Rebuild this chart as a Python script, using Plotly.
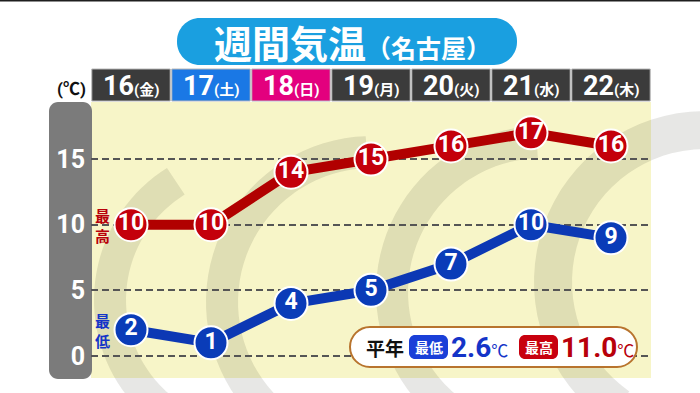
import math
import plotly.graph_objects as go

# ---------------- data ----------------
days = ["16", "17", "18", "19", "20", "21", "22"]
weekdays = ["金", "土", "日", "月", "火", "水", "木"]
max_temp = [10, 10, 14, 15, 16, 17, 16]
min_temp = [2, 1, 4, 5, 7, 10, 9]
y_ticks = [0, 5, 10, 15]
normal_min = 2.6
normal_max = 11.0
title_main = "週間気温"
title_city = "（名古屋）"
unit_label = "(℃)"
max_label = "最高"
min_label = "最低"
normal_label = "平年"

# ---------------- style ----------------
day_fill = ["#3b3b3b", "#1a78e5", "#e3007e", "#3b3b3b", "#3b3b3b", "#3b3b3b", "#3b3b3b"]
RED_LINE, RED_MARK, RED_TXT = "#b10000", "#c4000c", "#b8000a"
BLUE_LINE, BLUE_MARK, BLUE_TXT = "#0c38b4", "#0a3cb8", "#1434c8"
YELLOW = "#f7f5c8"
CYAN = "#1a9fe0"
FONT_NUM = "Roboto, 'Noto Sans CJK JP', sans-serif"
FONT_JP = "'Noto Sans CJK JP', sans-serif"

W, H = 700, 393
PL, PR, PT, PB = 91, 651, 102, 378  # plot area in pixels


def px(x, y):
    return (x - PL) / (PR - PL), (PB - y) / (PB - PT)


def fmt(x, y):
    a, b = px(x, y)
    return f"{a:.5f},{b:.5f}"


def rrect(x0, y0, x1, y1, r):
    k = 0.5523 * r
    p = [f"M {fmt(x0 + r, y0)}", f"L {fmt(x1 - r, y0)}",
         f"C {fmt(x1 - r + k, y0)} {fmt(x1, y0 + r - k)} {fmt(x1, y0 + r)}",
         f"L {fmt(x1, y1 - r)}",
         f"C {fmt(x1, y1 - r + k)} {fmt(x1 - r + k, y1)} {fmt(x1 - r, y1)}",
         f"L {fmt(x0 + r, y1)}",
         f"C {fmt(x0 + r - k, y1)} {fmt(x0, y1 - r + k)} {fmt(x0, y1 - r)}",
         f"L {fmt(x0, y0 + r)}",
         f"C {fmt(x0, y0 + r - k)} {fmt(x0 + r - k, y0)} {fmt(x0 + r, y0)}", "Z"]
    return " ".join(p)


def arc_path(cx, cy, r, a0, a1, n=40):
    pts = []
    for i in range(n + 1):
        a = math.radians(a0 + (a1 - a0) * i / n)
        pts.append(fmt(cx + r * math.cos(a), cy + r * math.sin(a)))
    return "M " + " L ".join(pts)


cats = [f"{d}({w})" for d, w in zip(days, weekdays)]

fig = go.Figure()
for vals, lc, mc in [(max_temp, RED_LINE, RED_MARK), (min_temp, BLUE_LINE, BLUE_MARK)]:
    fig.add_trace(go.Scatter(
        x=cats, y=vals, mode="lines+markers+text", text=[str(v) for v in vals],
        textposition="middle center",
        textfont=dict(family=FONT_NUM, size=23, color="white", weight="bold"),
        line=dict(color=lc, width=10),
        marker=dict(size=33, color=mc, line=dict(color="white", width=2)),
        cliponaxis=False, hoverinfo="skip"))

shapes = []
# decorative swirl arcs (background logo)
swirl_col = "rgba(40,40,20,0.11)"
swirls = [  # centre x, centre y, radius, start angle, end angle, width (pixels / degrees)
    (250, 300, 140, 238, 118, 32),
    (372, 302, 150, 268, 118, 32),
    (542, 292, 150, 268, 118, 32),
    (705, 282, 152, 300, 125, 38),
]
for cx, cy, r, a0, a1, w in swirls:
    shapes.append(dict(type="path", xref="paper", yref="paper", path=arc_path(cx, cy, r, a0, a1),
                       line=dict(color=swirl_col, width=w), layer="below"))
# gray y-axis band
shapes.append(dict(type="path", xref="paper", yref="paper", path=rrect(49, 102, 92, 379, 9),
                   fillcolor="#7b7b7b", line=dict(width=0), layer="below"))
# top dark rule
shapes.append(dict(type="line", xref="paper", yref="paper", x0=px(0, 0)[0], x1=px(W, 0)[0],
                   y0=px(0, 0.5)[1], y1=px(0, 0.5)[1], line=dict(color="#1e1e1e", width=2)))
# title pill
shapes.append(dict(type="path", xref="paper", yref="paper", path=rrect(177, 18, 517, 65, 23),
                   fillcolor=CYAN, line=dict(width=0)))
# day header boxes
hy0, hy1 = px(0, 101)[1], px(0, 69)[1]
for i, c in enumerate(day_fill):
    shapes.append(dict(type="rect", xref="x", yref="paper", x0=i - 0.49, x1=i + 0.49,
                       y0=hy0, y1=hy1, fillcolor=c, line=dict(color="#b8b8b8", width=1)))
# normal-values pill and badges
shapes.append(dict(type="path", xref="paper", yref="paper", path=rrect(350, 327, 637, 367, 20),
                   fillcolor="white", line=dict(color="#b8742e", width=2)))
shapes.append(dict(type="path", xref="paper", yref="paper", path=rrect(409, 335, 448, 359, 6),
                   fillcolor="#1a3fd8", line=dict(width=0)))
shapes.append(dict(type="path", xref="paper", yref="paper", path=rrect(519, 335, 558, 359, 6),
                   fillcolor="#c8000e", line=dict(width=0)))

ann = []


def add(xp, yp, text, size, color, anchor="center", fam=FONT_JP, xref="paper", xv=None):
    ax, ay = px(xp, yp)
    ann.append(dict(xref=xref, yref="paper", x=ax if xv is None else xv, y=ay, xanchor=anchor,
                    yanchor="middle", showarrow=False, text=text,
                    font=dict(family=fam, size=size, color=color)))


# title
add(352, 42, f"<b>{title_main}</b><b><span style='font-size:25px'>{title_city}</span></b>",
    38, "white")
# header labels
for i, (d, w) in enumerate(zip(days, weekdays)):
    add(0, 86, f"<b>{d}</b><b><span style='font-size:15px'>({w})</span></b>", 27, "white",
        fam=FONT_NUM, xref="x", xv=i)
# unit label
add(71, 89, f"<b>{unit_label}</b>", 17, "#111", fam=FONT_NUM)
# series labels
add(102, 225, f"<b>{max_label[0]}<br>{max_label[1]}</b>", 15, RED_TXT)
add(102, 330, f"<b>{min_label[0]}<br>{min_label[1]}</b>", 15, BLUE_TXT)
# normal values row
add(385, 347, f"<b>{normal_label}</b>", 19, "#111")
add(428.5, 347, f"<b>{min_label}</b>", 14, "white")
add(538.5, 347, f"<b>{max_label}</b>", 14, "white")
add(449, 347, f"<b>{normal_min:.1f}</b><span style='font-size:17px'>℃</span>", 28, BLUE_TXT,
    "left", FONT_NUM)
add(559, 347, f"<b>{normal_max:.1f}</b><span style='font-size:17px'>℃</span>", 28, RED_TXT,
    "left", FONT_NUM)

fig.update_layout(
    width=W, height=H, margin=dict(l=PL, r=W - PR, t=PT, b=H - PB, pad=0),
    paper_bgcolor="white", plot_bgcolor=YELLOW, showlegend=False,
    shapes=shapes, annotations=ann,
    xaxis=dict(type="category", range=[-0.5, 6.5], showticklabels=False, showgrid=False,
               zeroline=False, fixedrange=True),
    yaxis=dict(range=[-1.68, 19.35], tickvals=y_ticks, ticktext=[str(v) for v in y_ticks],
               tickfont=dict(family=FONT_NUM, size=25, color="white", weight="bold"),
               showgrid=True, gridcolor="#555555", gridwidth=2, griddash="7px,4px",
               zeroline=False, ticks="", ticklabelstandoff=5, fixedrange=True),
)
fig.write_html("out.html")
